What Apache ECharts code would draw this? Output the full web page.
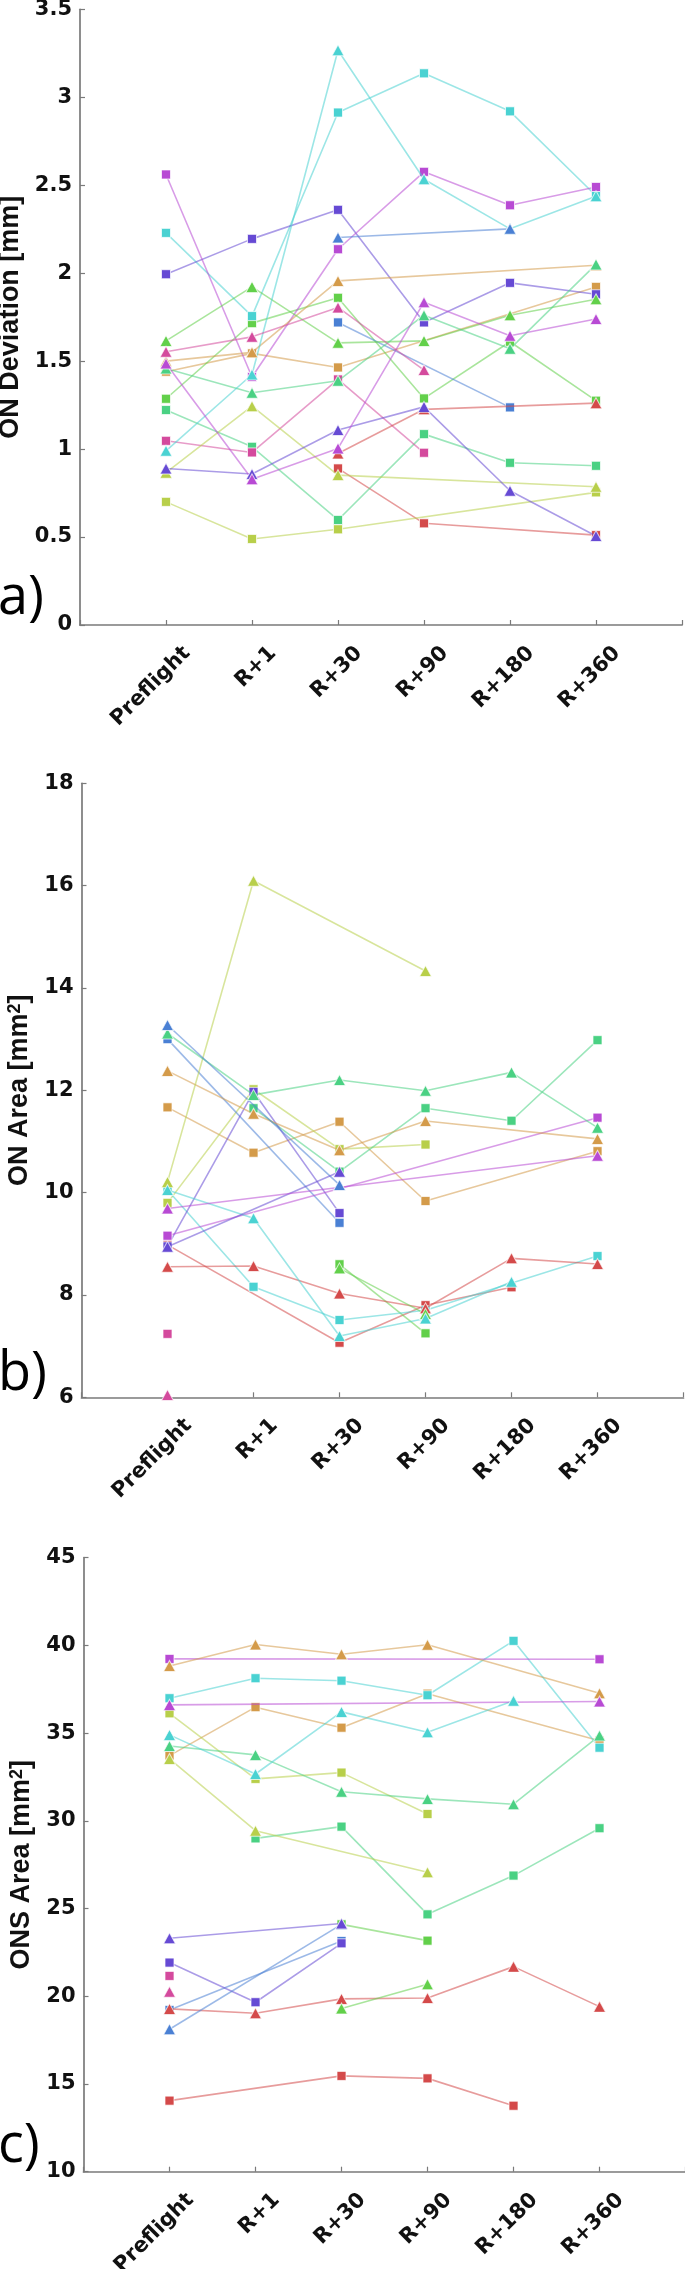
<!DOCTYPE html>
<html><head><meta charset="utf-8">
<script src="https://cdn.jsdelivr.net/npm/echarts/dist/echarts.min.js"></script>
<style>html,body{margin:0;padding:0;background:#fff}#c{width:685px;height:2269px}</style>
</head><body><div id="c"></div>
<script>
// ---------- categories & axis ranges ----------
const categories = ['Preflight', 'R+1', 'R+30', 'R+90', 'R+180', 'R+360'];
const devRange = [0, 3.5, 0.5];
const areaRange = [6, 18, 2];
const onsRange = [10, 45, 5];
const panelLabels = ['a)', 'b)', 'c)'];
const yTitles = ['ON Deviation [mm]', 'ON Area [mm{s|2}]', 'ONS Area [mm{s|2}]'];

// ---------- a) ON Deviation [mm] ----------
const dev_red_sq     = [null, null, 0.89, 0.578, null, 0.511];
const dev_red_tri    = [null, null, 0.975, 1.226, null, 1.261];
const dev_orange_sq  = [1.44, 1.544, 1.464, null, null, 1.922];
const dev_orange_tri = [1.50, 1.55, 1.956, null, null, 2.045];
const dev_yg_sq      = [0.70, 0.489, 0.544, null, null, 0.754];
const dev_yg_tri     = [0.866, 1.244, 0.852, null, null, 0.786];
const dev_green_sq   = [1.286, 1.716, 1.86, 1.288, 1.61, 1.275];
const dev_green_tri  = [1.615, 1.922, 1.604, 1.615, 1.761, 1.852];
const dev_teal_sq    = [1.222, 1.013, 0.597, 1.085, 0.922, 0.905];
const dev_teal_tri   = [1.458, 1.32, 1.388, 1.761, 1.57, 2.05];
const dev_cyan_sq    = [2.229, 1.756, 2.913, 3.136, 2.92, 2.44];
const dev_cyan_tri   = [0.99, 1.424, 3.267, 2.534, 2.252, 2.437];
const dev_blue_sq    = [null, null, 1.72, null, 1.237, null];
const dev_blue_tri   = [null, null, 2.203, null, 2.252, null];
const dev_indigo_sq  = [1.994, 2.195, 2.36, 1.72, 1.945, 1.88];
const dev_indigo_tri = [0.89, 0.858, 1.108, 1.24, 0.763, 0.506];
const dev_purple_sq  = [2.561, 1.41, 2.136, 2.576, 2.386, 2.49];
const dev_purple_tri = [1.487, 0.828, 1.004, 1.835, 1.644, 1.739];
const dev_pink_sq    = [1.047, 0.981, 1.396, 0.979, null, null];
const dev_pink_tri   = [1.553, 1.638, 1.805, 1.449, null, null];

// ---------- b) ON Area [mm2] ----------
const area_red_sq     = [8.98, null, 7.067, 7.80, 8.15, null];
const area_red_tri    = [8.55, 8.566, 8.03, 7.74, 8.716, 8.605];
const area_orange_sq  = [11.667, 10.78, 11.386, 9.836, null, 10.81];
const area_orange_tri = [12.38, 11.54, 10.83, 11.40, null, 11.05];
const area_yg_sq      = [9.80, 12.02, 10.85, 10.94, null, null];
const area_yg_tri     = [10.21, 16.096, null, 14.33, null, null];
const area_green_sq   = [null, null, 8.6, 7.25, null, null];
const area_green_tri  = [null, null, 8.52, 7.63, null, null];
const area_teal_sq    = [null, 11.65, 10.41, 11.65, 11.405, 12.98];
const area_teal_tri   = [13.11, 11.91, 12.2, 11.99, 12.35, 11.27];
const area_cyan_sq    = [10.05, 8.16, 7.51, 7.70, null, 8.76];
const area_cyan_tri   = [10.05, 9.50, 7.198, 7.54, 8.26, null];
const area_blue_sq    = [13.0, null, 9.41, null, null, null];
const area_blue_tri   = [13.276, null, 10.15, null, null, null];
const area_indigo_sq  = [8.95, 11.97, 9.60, null, null, null];
const area_indigo_tri = [8.943, null, 10.41, null, null, null];
const area_purple_sq  = [9.158, null, null, null, null, 11.465];
const area_purple_tri = [9.69, null, null, null, null, 10.72];
const area_pink_sq    = [7.24, null, null, null, null, null];
const area_pink_tri   = [6.045, null, null, null, null, null];

// ---------- c) ONS Area [mm2] ----------
const ons_red_sq     = [14.05, null, 15.46, 15.32, 13.76, null];
const ons_red_tri    = [19.28, 19.03, 19.85, 19.9, 21.69, 19.41];
const ons_orange_sq  = [33.72, 36.48, 35.31, 37.25, null, 34.57];
const ons_orange_tri = [38.83, 40.05, 39.5, 40.04, null, 37.27];
const ons_yg_sq      = [36.13, 32.39, 32.75, 30.39, null, null];
const ons_yg_tri     = [33.53, 29.44, null, 27.07, null, null];
const ons_green_sq   = [null, null, 24.1, 23.17, null, null];
const ons_green_tri  = [null, null, 19.3, 20.68, null, null];
const ons_teal_sq    = [null, 29.0, 29.67, 24.67, 26.88, 29.58];
const ons_teal_tri   = [34.27, 33.76, 31.66, 31.25, 30.95, 34.86];
const ons_cyan_sq    = [36.99, 38.13, 37.99, 37.16, 40.26, 34.17];
const ons_cyan_tri   = [34.9, 32.67, 36.21, 35.05, 36.84, null];
const ons_blue_sq    = [19.22, null, 23.15, null, null, null];
const ons_blue_tri   = [18.12, null, 24.1, null, null, null];
const ons_indigo_sq  = [21.92, 19.66, 23.02, null, null, null];
const ons_indigo_tri = [23.31, null, 24.15, null, null, null];
const ons_purple_sq  = [39.23, null, null, null, null, 39.21];
const ons_purple_tri = [36.61, null, null, null, null, 36.80];
const ons_pink_sq    = [21.16, null, null, null, null, null];
const ons_pink_tri   = [20.26, null, null, null, null, null];

// ---------- styling ----------
const COL = {
  red: '#d44a4a', orange: '#d49b4a', yg: '#b8cf4a', green: '#62d04a', teal: '#4ad183',
  cyan: '#4ad2d2', blue: '#4a80d4', indigo: '#664ad4', purple: '#b84ad4', pink: '#d44a9d'
};
function rgba(hex, a) {
  const n = parseInt(hex.slice(1), 16);
  return 'rgba(' + ((n >> 16) & 255) + ',' + ((n >> 8) & 255) + ',' + (n & 255) + ',' + a + ')';
}
const TICK_FONT = 'DejaVu Sans';
const TITLE_FONT = 'Liberation Sans';
const AX_COLOR = '#7a7a7a';
const TXT = '#111111';

const panels = [
  [['red','sq',dev_red_sq],['red','tri',dev_red_tri],['orange','sq',dev_orange_sq],['orange','tri',dev_orange_tri],
   ['yg','sq',dev_yg_sq],['yg','tri',dev_yg_tri],['green','sq',dev_green_sq],['green','tri',dev_green_tri],
   ['teal','sq',dev_teal_sq],['teal','tri',dev_teal_tri],['cyan','sq',dev_cyan_sq],['cyan','tri',dev_cyan_tri],
   ['blue','sq',dev_blue_sq],['blue','tri',dev_blue_tri],['indigo','sq',dev_indigo_sq],['indigo','tri',dev_indigo_tri],
   ['purple','sq',dev_purple_sq],['purple','tri',dev_purple_tri],['pink','sq',dev_pink_sq],['pink','tri',dev_pink_tri]],
  [['red','sq',area_red_sq],['red','tri',area_red_tri],['orange','sq',area_orange_sq],['orange','tri',area_orange_tri],
   ['yg','sq',area_yg_sq],['yg','tri',area_yg_tri],['green','sq',area_green_sq],['green','tri',area_green_tri],
   ['teal','sq',area_teal_sq],['teal','tri',area_teal_tri],['cyan','sq',area_cyan_sq],['cyan','tri',area_cyan_tri],
   ['blue','sq',area_blue_sq],['blue','tri',area_blue_tri],['indigo','sq',area_indigo_sq],['indigo','tri',area_indigo_tri],
   ['purple','sq',area_purple_sq],['purple','tri',area_purple_tri],['pink','sq',area_pink_sq],['pink','tri',area_pink_tri]],
  [['red','sq',ons_red_sq],['red','tri',ons_red_tri],['orange','sq',ons_orange_sq],['orange','tri',ons_orange_tri],
   ['yg','sq',ons_yg_sq],['yg','tri',ons_yg_tri],['green','sq',ons_green_sq],['green','tri',ons_green_tri],
   ['teal','sq',ons_teal_sq],['teal','tri',ons_teal_tri],['cyan','sq',ons_cyan_sq],['cyan','tri',ons_cyan_tri],
   ['blue','sq',ons_blue_sq],['blue','tri',ons_blue_tri],['indigo','sq',ons_indigo_sq],['indigo','tri',ons_indigo_tri],
   ['purple','sq',ons_purple_sq],['purple','tri',ons_purple_tri],['pink','sq',ons_pink_sq],['pink','tri',ons_pink_tri]]
];
const ranges = [devRange, areaRange, onsRange];

// layout (pixels)
const GRIDS = [
  {left: 80,   top: 9.3,    width: 602, height: 615.7},
  {left: 81.5, top: 783.3,  width: 602, height: 614},
  {left: 83.5, top: 1557.7, width: 602, height: 614}
];
const NAME_GAP = [49, 42, 44];
const LABEL_SHIFT = 21;
const PANEL_LABEL_Y = [599, 1375, 2147];

const grid = [], xAxis = [], yAxis = [], series = [], graphic = [];
GRIDS.forEach((g, i) => {
  grid.push(Object.assign({outerBoundsMode: 'none', containLabel: false}, g));
});
GRIDS.forEach((g, i) => {
  grid.push({outerBoundsMode: 'none', containLabel: false, left: g.left + LABEL_SHIFT, top: g.top, width: g.width, height: g.height});
});

for (let i = 0; i < 3; i++) {
  xAxis.push({
    type: 'value', gridIndex: i, min: 0, max: 7, interval: 1,
    axisLine: {show: true, onZero: false, lineStyle: {color: AX_COLOR, width: 1.7}},
    axisTick: {show: true, inside: true, length: 5, lineStyle: {color: AX_COLOR, width: 1.2}},
    axisLabel: {show: false}, splitLine: {show: false}
  });
  const r = ranges[i];
  yAxis.push({
    type: 'value', gridIndex: i, min: r[0], max: r[1], interval: r[2],
    axisLine: {show: true, onZero: false, lineStyle: {color: AX_COLOR, width: 1.7}},
    axisTick: {show: true, inside: true, length: 5, lineStyle: {color: AX_COLOR, width: 1.2}},
    axisLabel: {margin: 8, fontFamily: TICK_FONT, fontWeight: 'bold', fontSize: 21, color: TXT},
    splitLine: {show: false},
    name: yTitles[i], nameLocation: 'middle', nameGap: NAME_GAP[i], nameRotate: 90,
    nameTextStyle: {fontFamily: TITLE_FONT, fontWeight: 'bold', fontSize: 27, color: TXT,
      rich: {s: {fontFamily: TITLE_FONT, fontWeight: 'bold', fontSize: 18, color: TXT, verticalAlign: 'top'}}}
  });
}
for (let i = 0; i < 3; i++) {
  xAxis.push({
    type: 'value', gridIndex: i + 3, min: 0, max: 7, interval: 1,
    axisLine: {show: false}, axisTick: {show: false}, splitLine: {show: false},
    axisLabel: {show: true, rotate: 45, margin: 25, fontFamily: TICK_FONT, fontWeight: 'bold', fontSize: 21, color: TXT,
      showMinLabel: true, showMaxLabel: true,
      formatter: v => (v >= 1 && v <= 6) ? categories[v - 1] : ''}
  });
  yAxis.push({type: 'value', gridIndex: i + 3, show: false, min: 0, max: 1});
}

panels.forEach((list, p) => {
  list.forEach(([c, shape, arr]) => {
    const pts = [];
    arr.forEach((v, k) => { if (v !== null) pts.push([k + 1, v]); });
    series.push({
      type: 'line', xAxisIndex: p, yAxisIndex: p, data: pts,
      symbol: shape === 'sq' ? 'rect' : 'triangle',
      symbolSize: shape === 'sq' ? 9 : [12, 11],
      showSymbol: true, showAllSymbol: true, silent: true,
      lineStyle: {color: rgba(COL[c], 0.55), width: 1.6},
      itemStyle: {color: COL[c], borderColor: 'rgba(255,255,255,0.7)', borderWidth: 1},
      emphasis: {disabled: true}, z: shape === 'sq' ? 3 : 4
    });
  });
});

panelLabels.forEach((t, i) => {
  graphic.push({type: 'text', x: -2, y: PANEL_LABEL_Y[i], z: 10,
    style: {text: t, font: '54px "Open Sans"', fill: '#000', align: 'left', verticalAlign: 'middle',
      textAlign: 'left', textVerticalAlign: 'middle'}});
});

const chart = echarts.init(document.getElementById('c'), null, {renderer: 'canvas'});
chart.setOption({animation: false, backgroundColor: '#fff', grid, xAxis, yAxis, series, graphic, tooltip: {show: false}});
</script></body></html>
